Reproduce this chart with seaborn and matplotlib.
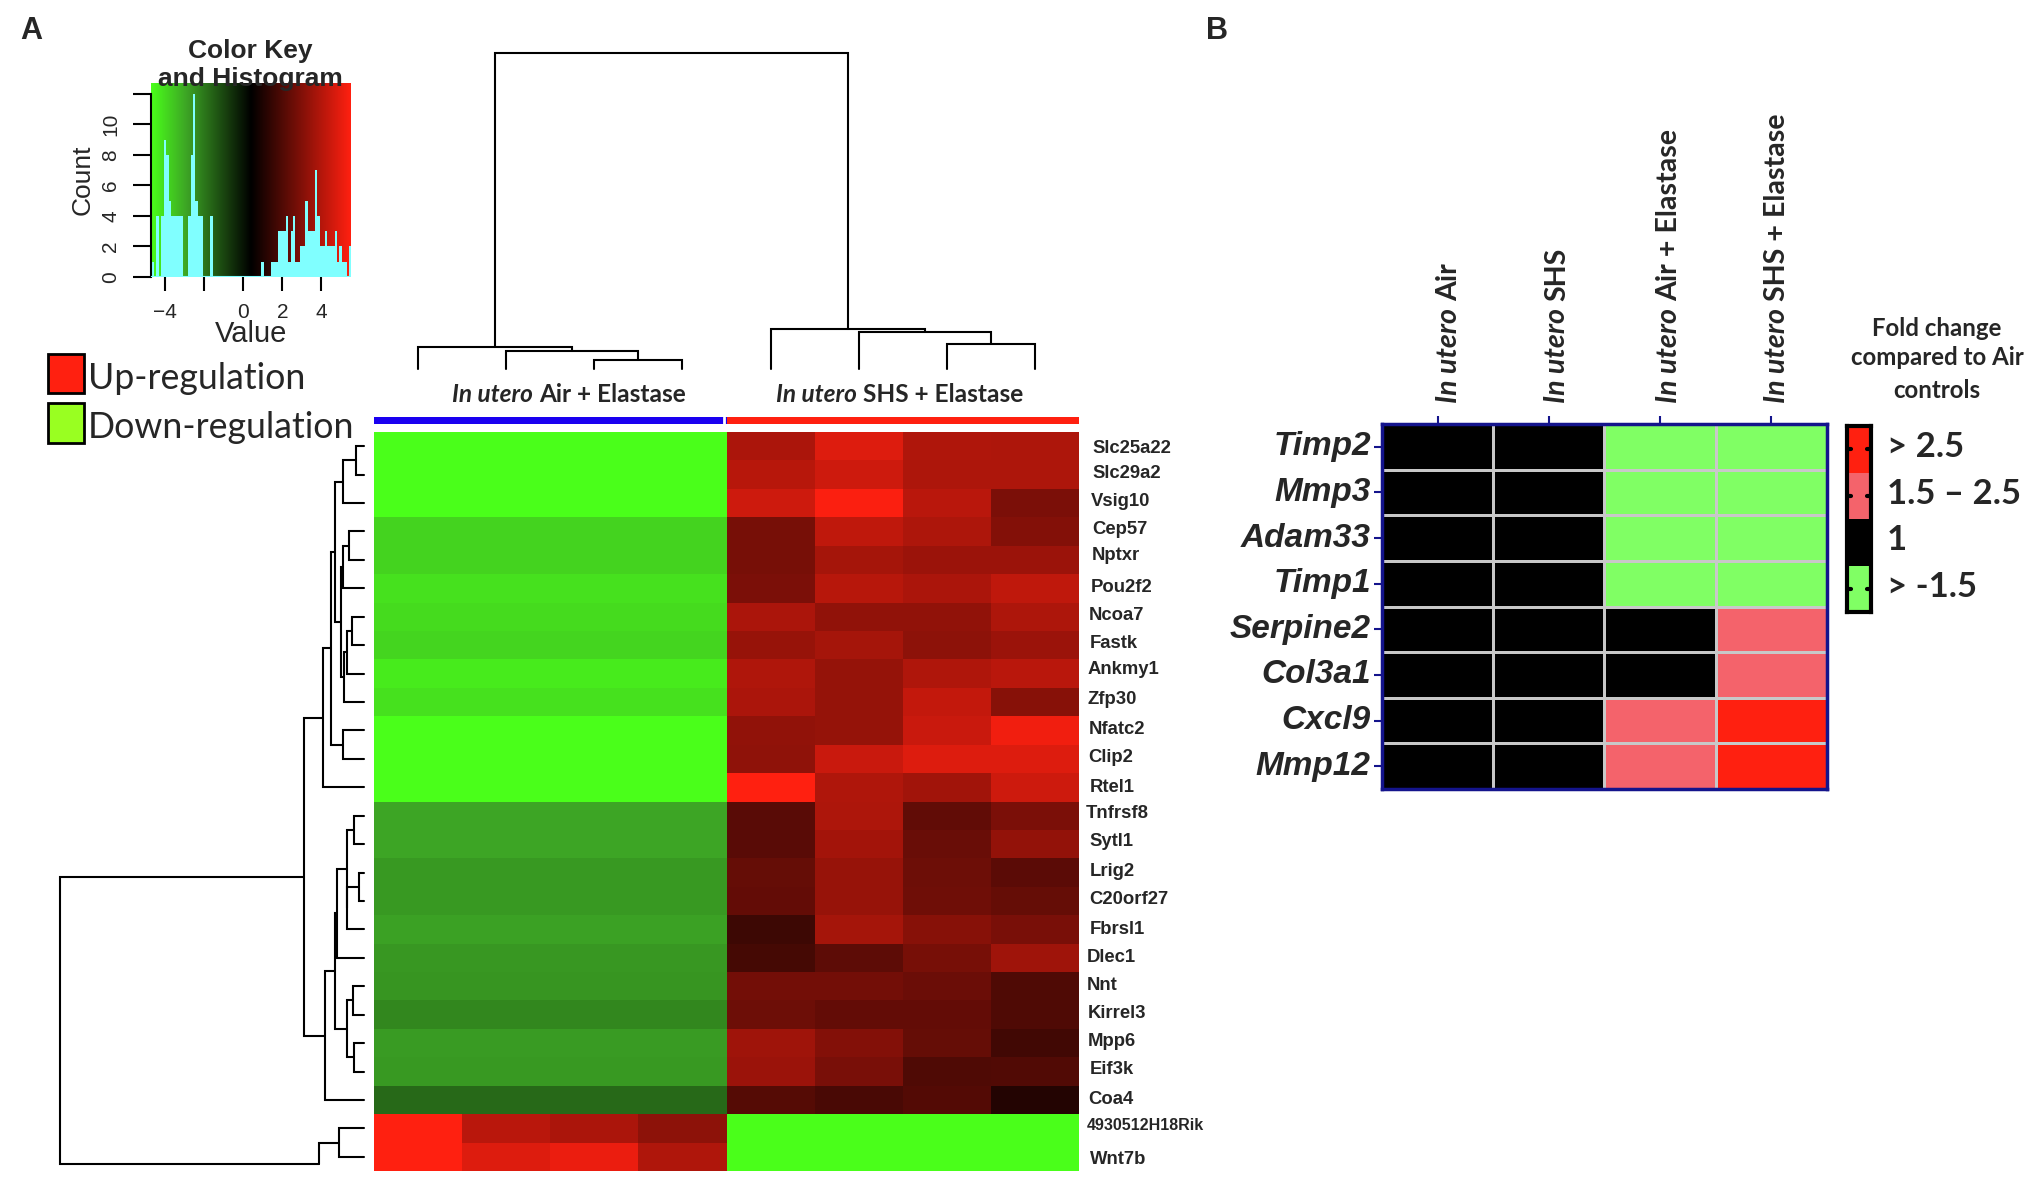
import numpy as np
import pandas as pd
import seaborn as sns
import matplotlib.pyplot as plt
from matplotlib.colors import LinearSegmentedColormap, ListedColormap
from matplotlib.patches import Rectangle

W, H = 2033, 1179

GREEN = "#4AFF1A"
RED = "#FF2010"

# panel A: log fold change per gene
genes = ["Slc25a22", "Slc29a2", "Vsig10", "Cep57", "Nptxr", "Pou2f2", "Ncoa7", "Fastk",
         "Ankmy1", "Zfp30", "Nfatc2", "Clip2", "Rtel1", "Tnfrsf8", "Sytl1", "Lrig2",
         "C20orf27", "Fbrsl1", "Dlec1", "Nnt", "Kirrel3", "Mpp6", "Eif3k", "Coa4",
         "4930512H18Rik", "Wnt7b"]
air_values = [
    [-4.7, -4.7, -4.7, -4.7], [-4.7, -4.7, -4.7, -4.7], [-4.7, -4.7, -4.7, -4.7],
    [-3.8, -3.8, -3.8, -3.8], [-3.8, -3.8, -3.8, -3.8], [-4.1, -4.1, -4.1, -4.1],
    [-3.96, -3.96, -3.96, -3.96], [-3.84, -3.84, -3.84, -3.84], [-4.3, -4.3, -4.3, -4.3],
    [-4.1, -4.1, -4.1, -4.1], [-4.7, -4.7, -4.7, -4.7], [-4.7, -4.7, -4.7, -4.7],
    [-4.7, -4.7, -4.7, -4.7], [-2.9, -2.9, -2.9, -2.9], [-2.9, -2.9, -2.9, -2.9],
    [-2.64, -2.64, -2.64, -2.64], [-2.64, -2.64, -2.64, -2.64], [-2.8, -2.8, -2.8, -2.8],
    [-2.6, -2.6, -2.6, -2.6], [-2.56, -2.56, -2.56, -2.56], [-2.3, -2.3, -2.3, -2.3],
    [-2.7, -2.7, -2.7, -2.7], [-2.64, -2.64, -2.64, -2.64], [-1.7, -1.7, -1.7, -1.7],
    [5.5, 4.1, 3.8, 3.2], [5.5, 4.8, 5.1, 3.9],
]
shs_values = [
    [3.8, 4.8, 3.9, 3.84], [4.04, 4.5, 3.84, 3.84], [4.5, 5.4, 4.1, 2.84],
    [2.76, 4.2, 3.84, 3.0], [2.76, 3.7, 3.5, 3.5], [2.84, 4.04, 3.8, 4.2],
    [3.8, 3.3, 3.3, 3.84], [3.4, 3.7, 3.2, 3.5], [3.9, 3.36, 3.9, 4.1],
    [3.8, 3.36, 4.3, 3.1], [3.3, 3.36, 4.4, 5.2], [3.24, 4.4, 4.8, 4.8],
    [5.5, 3.9, 3.6, 4.5], [2.16, 3.84, 2.32, 2.84], [2.16, 3.64, 2.48, 3.32],
    [2.4, 3.4, 2.56, 2.2], [2.36, 3.4, 2.6, 2.4], [1.6, 3.7, 3.1, 2.8],
    [1.76, 2.24, 2.76, 3.56], [2.7, 2.7, 2.52, 1.96], [2.56, 2.36, 2.36, 1.96],
    [3.56, 3.0, 2.4, 1.68], [3.5, 2.8, 1.96, 2.0], [2.1, 1.84, 2.04, 1.1],
    [-4.7, -4.7, -4.7, -4.7], [-4.7, -4.7, -4.7, -4.7],
]

# colour key histogram: bin centres and counts
hist_centres = [-4.64, -4.39, -4.14, -4.01, -3.89, -3.76, -3.64, -3.51, -3.39, -3.26, -3.14,
                -2.76, -2.64, -2.51, -2.39, -2.26, -2.14, -1.64,
                0.99, 1.49, 1.61, 1.74, 1.86, 1.99, 2.11, 2.24, 2.36, 2.49, 2.61, 2.74, 2.86,
                2.99, 3.11, 3.24, 3.36, 3.49, 3.61, 3.74, 3.86, 3.99, 4.11, 4.24, 4.36, 4.49,
                4.61, 4.74, 4.86, 4.99, 5.11, 5.24, 5.49]
hist_counts = [1, 4, 4, 9, 8, 5, 4, 4, 4, 4, 4,
               4, 8, 12, 5, 4, 4, 4,
               1, 1, 1, 1, 3, 3, 3, 4, 1, 3, 4, 1, 1,
               2, 2, 5, 3, 3, 3, 7, 4, 2, 2, 3, 2, 2,
               2, 3, 1, 2, 1, 1, 2]

# dendrograms as nested (height, child, child); a leaf is its row or column number
col_tree = (316,
            (22, 0, (17.7, 1, (8.7, 2, 3))),
            (40.3, 4, (37, 5, (24.7, 6, 7))))
group_a = (21.3, (7.7, 0, 1), 2)
group_b = (20.7, (14.7, 3, 4), 5)
group_c = (19.7, (17.3, (12.3, 6, 7), 8), 9)
upper_rows = (40.7, (33.3, (29, group_a, (23.3, group_b, group_c)), (20.7, 10, 11)), 12)
group_d = (17.3, (9.7, 13, 14), (16.7, (4.7, 15, 16), 17))
group_e = (16.7, (10.7, 19, 20), (10, 21, 22))
lower_rows = (39.3, (29, (27.3, group_d, 18), group_e), 23)
row_tree = (304, (59.7, upper_rows, lower_rows), (45, (25.3, 24, 25)))

# panel B
b_genes = ["Timp2", "Mmp3", "Adam33", "Timp1", "Serpine2", "Col3a1", "Cxcl9", "Mmp12"]
b_groups = ["Air", "SHS", "Air + Elastase", "SHS + Elastase"]
b_levels = [[0, 0, -1, -1], [0, 0, -1, -1], [0, 0, -1, -1], [0, 0, -1, -1],
            [0, 0, 0, 1], [0, 0, 0, 1], [0, 0, 1, 2], [0, 0, 1, 2]]
b_colors = ["#80FF64", "#000000", "#F4636B", RED]
b_key_levels = [2, 1, 0, -1]
b_key_labels = ["> 2.5", "1.5 \u2013 2.5", "1", "> -1.5"]

# label positions in pixels, these were set by hand in the original figure
gene_label_x = [1092, 1092, 1091, 1092, 1092, 1091, 1089, 1090, 1088, 1088, 1089, 1088, 1090,
                1086, 1089, 1090, 1089, 1090, 1087, 1087, 1088, 1088, 1090, 1088, 1087, 1090]
gene_label_y = [448, 473, 502, 530, 556, 587, 615, 644, 670, 699, 730, 758, 787,
                814, 842, 872, 900, 929, 957, 986, 1014, 1042, 1070, 1099, 1126, 1160]


def px_axes(x0, y0, x1, y1):
    return fig.add_axes([x0 / W, 1 - y1 / H, (x1 - x0) / W, (y1 - y0) / H])


def text_px(x, y, s, **kw):
    return fig.text(x / W, 1 - y / H, s, **kw)


def draw_tree(ax, node, vertical):
    # returns position along the leaves and the height of this node
    if not isinstance(node, tuple):
        return node + 0.5, 0
    if len(node) == 2:
        # link whose lower half was cut off in the original figure
        p, h = draw_tree(ax, node[1], vertical)
        pos = [p, p, p + 0.75]
        hts = [h, node[0], node[0]]
        p = p + 0.75
    else:
        pa, ha = draw_tree(ax, node[1], vertical)
        pb, hb = draw_tree(ax, node[2], vertical)
        pos = [pa, pa, pb, pb]
        hts = [ha, node[0], node[0], hb]
        p = (pa + pb) / 2
    if vertical:
        ax.plot(pos, hts, color="black", lw=1.5, solid_joinstyle="miter")
    else:
        ax.plot(hts, pos, color="black", lw=1.5, solid_joinstyle="miter")
    return p, node[0]


def mixed_label(x, y, first, second, rotation=0, size=17):
    # italic "In utero" followed by the upright part
    r = fig.canvas.get_renderer()
    if rotation == 90:
        t = text_px(x, y, first, family="Lato", weight="bold", style="italic", size=size,
                    rotation=90, ha="center", va="bottom")
        top = H - t.get_window_extent(r).y1
        text_px(x, top - 7, second, family="Lato", weight="bold", size=size,
                rotation=90, ha="center", va="bottom")
    else:
        t = text_px(x, y, first, family="Lato", weight="bold", style="italic", size=size,
                    ha="left", va="center")
        end = t.get_window_extent(r).x1
        text_px(end + 6, y, second, family="Lato", weight="bold", size=size,
                ha="left", va="center")


sns.set_style("white")
plt.rcParams["font.family"] = ["Liberation Sans", "DejaVu Sans"]

fig = plt.figure(figsize=(W / 100, H / 100), dpi=100)

text_px(31, 31, "A", size=22, weight="bold", ha="center", va="center")
text_px(1217, 31, "B", size=22, weight="bold", ha="center", va="center")

# colour key with histogram on top
rg_map = LinearSegmentedColormap.from_list(
    "rg", [(0, GREEN), (0.176, "#3DA525"), (0.5, "black"), (1, RED)])
text_px(250, 51, "Color Key", size=19, weight="bold", ha="center", va="center")
text_px(250, 79, "and Histogram", size=19, weight="bold", ha="center", va="center")
ax = px_axes(151, 83, 351, 277)
ax.patch.set_alpha(1)
ax.imshow(np.linspace(-4.73, 5.52, 256)[None, :], cmap=rg_map, aspect="auto",
          extent=(-4.73, 5.52, 0, 12.7), vmin=-4.73, vmax=5.52, zorder=0)
sns.histplot(x=hist_centres, weights=hist_counts, binwidth=0.125, binrange=(-4.7, 5.55),
             color="#80FFFF", alpha=1, linewidth=0, ax=ax, zorder=2)
ax.axhline(0, color="#80FFFF", lw=1.5, zorder=3)
ax.set_xlim(-4.73, 5.52)
ax.set_ylim(0, 12.7)
ax.set_xticks([-4, -2, 0, 2, 4])
ax.set_xticklabels(["\u22124", "", "0", "2", "4"], size=15)
ax.set_yticks([0, 2, 4, 6, 8, 10, 12])
ax.set_yticklabels(["0", "2", "4", "6", "8", "10", ""], size=15, rotation=90, va="center")
ax.tick_params(axis="x", length=10, width=1.5, color="black", bottom=True, pad=9)
ax.tick_params(axis="y", length=13, width=1.5, color="black", left=True, pad=9)
ax.set_xlabel("Value", size=21, labelpad=-2)
ax.set_ylabel("Count", size=19, labelpad=5)
sns.despine(ax=ax, top=True, right=True, bottom=True)
ax.spines["left"].set_bounds(0, 12)
ax.spines["left"].set_linewidth(1.5)
ax.spines["left"].set_color("black")

# up / down legend
for y0, y1, c, label in [(354, 393, RED, "Up-regulation"), (403, 443, "#99FF21", "Down-regulation")]:
    fig.add_artist(Rectangle((48 / W, 1 - y1 / H), 36 / W, (y1 - y0) / H, transform=fig.transFigure,
                             facecolor=c, edgecolor="black", lw=2))
    text_px(88, (y0 + y1) / 2 + 5, label, family="Lato", size=25.7, ha="left", va="center")

# top dendrogram
ax = px_axes(374, 53, 1079, 369)
draw_tree(ax, col_tree, True)
ax.set_xlim(0, 8)
ax.set_ylim(0, 316)
ax.axis("off")

# left dendrogram
ax = px_axes(60, 432, 364, 1171)
draw_tree(ax, row_tree, False)
ax.set_xlim(304, 0)
ax.set_ylim(26, 0)
ax.axis("off")
for a in fig.axes[-2:]:
    for line in a.lines:
        line.set_clip_on(False)

mixed_label(452, 394, "In utero", "Air + Elastase", size=17.6)
mixed_label(776, 394, "In utero", "SHS + Elastase", size=17.6)

# group bars above the heatmap
group_bar = px_axes(374, 417, 1079, 424)
sns.heatmap([[0] * 4 + [1] * 4], cmap=ListedColormap(["#1A00F0", RED]), cbar=False,
            xticklabels=False, yticklabels=False, ax=group_bar)
group_bar.axvline(3.97, color="white", lw=2)

# main heatmap
heat = pd.DataFrame(np.hstack([np.array(air_values), np.array(shs_values)]), index=genes)
ax = px_axes(374, 432, 1079, 1171)
sns.heatmap(heat, cmap=rg_map, vmin=-4.7, vmax=5.5, cbar=False,
            xticklabels=False, yticklabels=False, ax=ax)
for g, x, y in zip(genes, gene_label_x, gene_label_y):
    size = 11.5 if g.startswith("49") else 13.3
    text_px(x, y, g, size=size, weight="bold", ha="left", va="center")

# panel B heatmap
b_frame = pd.DataFrame(b_levels, index=b_genes, columns=b_groups)
b_map = ListedColormap(b_colors)
ax = px_axes(1382, 424, 1827, 789)
sns.heatmap(b_frame, cmap=b_map, vmin=-1.5, vmax=2.5, cbar=False, linewidths=1,
            linecolor="#C8C8C8", ax=ax)
ax.xaxis.tick_top()
ax.set_xticklabels([""] * 4)
ax.set_yticklabels(b_genes, rotation=0, size=24, weight="bold", style="italic")
for lab in ax.get_yticklabels():
    lab.set_y(lab.get_position()[1] + 0.05)
ax.tick_params(axis="both", length=6, width=1.5, color="#14148C", left=True, top=True, pad=2)
for s in ax.spines.values():
    s.set_visible(True)
    s.set_color("#14148C")
    s.set_linewidth(2.5)

for x, group in zip([1449, 1557, 1669, 1777], b_groups):
    mixed_label(x, 403, "In utero", group, rotation=90, size=20.6)

# panel B key
ax = px_axes(1847, 426, 1871, 612)
sns.heatmap([[v] for v in b_key_levels], cmap=b_map, vmin=-1.5, vmax=2.5, cbar=False,
            xticklabels=False, yticklabels=False, ax=ax)
for s in ax.spines.values():
    s.set_visible(True)
    s.set_color("black")
    s.set_linewidth(3)
for row, label in zip([0.5, 1.5, 2.5, 3.5], b_key_labels):
    if label != "1":
        ax.plot([0, 0.18], [row, row], color="black", lw=3)
        ax.plot([0.82, 1], [row, row], color="black", lw=3)
    text_px(1887, 426 + row * 46.5 - 2, label, family="Lato", weight="bold", size=25,
            ha="left", va="center")

for y, line in zip([328, 358, 390], ["Fold change", "compared to Air", "controls"]):
    text_px(1937, y, line, family="Lato", weight="bold", size=17.3, ha="center", va="center")

fig.savefig("out.png", dpi=100)
